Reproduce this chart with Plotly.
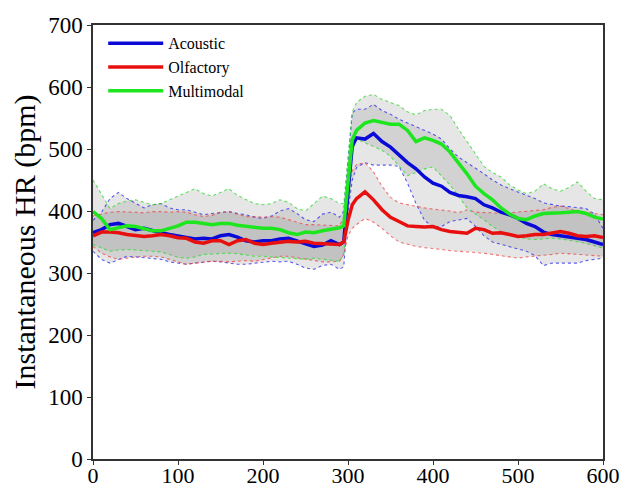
import plotly.graph_objects as go

x = list(range(0, 300, 10)) + [295, 300, 305] + list(range(310, 610, 10))
x = sorted(x)

acoustic_mean = [365,370,378,380,375,370,372,368,365,362,360,358,355,356,355,360,362,358,352,350,352,352,355,356,352,348,343,345,352,346,350,430,505,
                 518,516,525,512,503,490,478,468,455,445,440,430,425,423,420,410,405,398,394,388,380,375,366,362,360,358,355,354,350,346]
acoustic_upper = [385,398,420,430,420,412,405,410,412,405,402,402,398,394,396,398,399,396,394,390,388,392,400,404,396,386,383,395,398,390,400,480,558,
                  564,564,572,562,556,548,542,536,530,524,516,500,487,478,470,460,450,442,436,431,425,420,413,410,408,407,405,404,395,372]
acoustic_lower = [335,322,316,322,327,326,325,324,322,318,316,314,316,318,319,318,316,314,314,316,318,319,318,319,314,308,306,312,314,306,310,400,450,
                  470,478,474,474,474,472,445,412,385,374,375,383,386,388,375,360,350,346,342,338,335,328,312,316,316,316,316,320,322,324]

olfactory_mean = [360,366,366,365,362,360,359,360,362,360,357,356,350,348,352,352,346,352,354,348,346,348,350,351,350,351,348,347,346,346,350,385,410,
                  420,431,418,402,390,383,376,375,374,375,370,367,365,364,372,370,364,365,362,359,360,362,362,364,367,364,360,359,360,357]
olfactory_upper = [392,395,398,399,399,398,397,399,399,398,399,398,394,391,393,398,399,395,391,391,390,391,390,386,382,378,378,377,377,376,390,440,465,
                   475,478,463,440,422,413,410,407,405,403,402,400,397,402,398,398,397,396,397,398,399,400,402,406,408,404,399,398,396,394]
olfactory_lower = [343,332,326,322,324,326,327,327,326,322,318,314,316,318,319,319,318,319,320,319,322,325,327,327,325,322,320,318,318,319,330,360,372,
                   378,388,382,372,360,350,346,343,341,340,338,336,335,335,334,332,330,328,325,324,326,327,328,330,332,331,331,330,328,327]

multimodal_mean = [399,388,370,373,376,375,372,368,368,372,376,382,382,380,378,380,380,377,375,373,372,372,370,365,362,366,365,368,370,373,376,440,515,
                   530,542,546,543,540,540,530,512,518,514,508,495,478,460,440,428,418,405,395,388,386,392,396,396,397,398,399,396,390,387]
multimodal_upper = [450,428,404,412,416,418,414,410,412,418,425,430,436,428,424,430,436,425,418,412,410,412,418,414,404,400,412,424,420,412,412,480,560,
                    575,585,588,580,575,570,560,555,562,564,564,554,532,512,492,472,462,455,442,434,428,432,444,436,432,438,447,432,420,418]
multimodal_lower = [346,340,335,337,338,337,336,335,334,330,325,324,326,330,331,332,332,331,329,327,327,326,325,324,322,322,324,322,320,319,330,420,495,
                    516,510,504,498,488,472,457,462,468,471,456,442,424,405,395,386,375,367,362,358,355,354,355,356,355,353,351,348,344,340]

series = [
    ("Acoustic", acoustic_mean, acoustic_upper, acoustic_lower, "#0a0ad8", "rgba(40,40,240,0.75)"),
    ("Olfactory", olfactory_mean, olfactory_upper, olfactory_lower, "#e8100f", "rgba(240,60,60,0.7)"),
    ("Multimodal", multimodal_mean, multimodal_upper, multimodal_lower, "#1ee61e", "rgba(40,220,40,0.75)"),
]

fig = go.Figure()
serif = "Liberation Serif, Times New Roman, serif"

# bands
for name, m, up, lo, col, dcol in series:
    fig.add_trace(go.Scatter(x=x + x[::-1], y=up + lo[::-1], fill="toself",
                             fillcolor="rgba(128,128,128,0.2)", line=dict(width=0),
                             mode="lines", hoverinfo="skip", showlegend=False))
# bounds
for name, m, up, lo, col, dcol in series:
    for b in (up, lo):
        fig.add_trace(go.Scatter(x=x, y=b, mode="lines", showlegend=False,
                                 line=dict(color=dcol, width=1.1, dash="dot")))
# means
for name, m, up, lo, col, dcol in series:
    fig.add_trace(go.Scatter(x=x, y=m, mode="lines", name=name,
                             line=dict(color=col, width=3.5)))

axis_common = dict(showline=True, linecolor="#333333", linewidth=1.5, mirror=True,
                   ticks="outside", ticklen=4, tickcolor="#333333", showgrid=False,
                   zeroline=False, automargin=False)

fig.update_layout(
    width=622, height=479,
    margin=dict(l=85, r=27, t=17, b=28),
    plot_bgcolor="white", paper_bgcolor="white",
    xaxis=dict(range=[0, 600], dtick=100, ticklabelstandoff=-8,
               tickfont=dict(family=serif, size=22, color="black"), **axis_common),
    yaxis=dict(range=[0, 700], dtick=100,
               tickfont=dict(family=serif, size=23, color="black"),
               title=dict(text="Instantaneous HR (bpm)", font=dict(family=serif, size=30, color="black"), standoff=8),
               **axis_common),
    legend=dict(x=0.02, y=0.997, xanchor="left", yanchor="top", bgcolor="rgba(0,0,0,0)",
                font=dict(family=serif, size=16, color="black"), tracegroupgap=0, itemwidth=55),
    showlegend=True,
)

fig.write_html("out.html")
